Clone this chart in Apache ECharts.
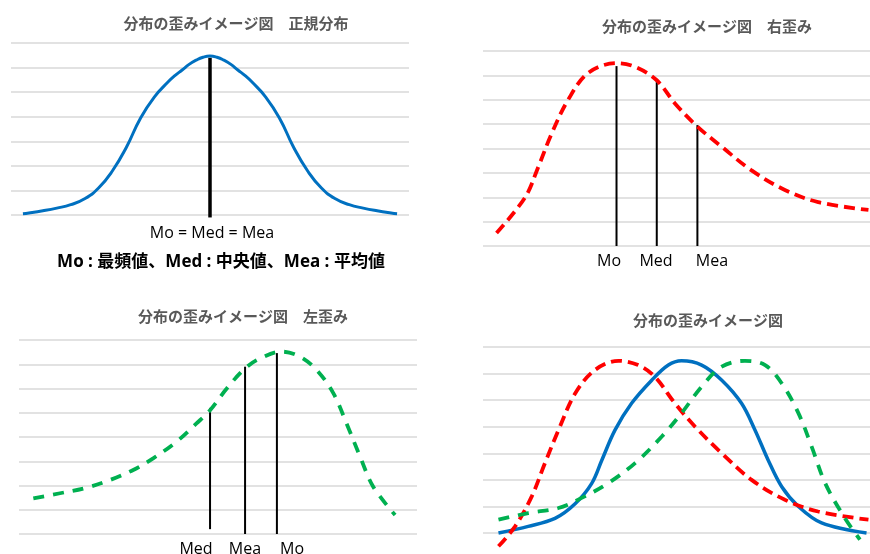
<!DOCTYPE html>
<html><head><meta charset="utf-8">
<script src="https://cdn.jsdelivr.net/npm/echarts@6/dist/echarts.min.js"></script>
<style>html,body{margin:0;padding:0;background:#fff}#c{width:870px;height:554px}</style>
</head><body><div id="c"></div>
<script>
// ---- titles / labels ----
const titleNormal = '分布の歪みイメージ図　正規分布';
const titleRight = '分布の歪みイメージ図　右歪み';
const titleLeft = '分布の歪みイメージ図　左歪み';
const titleAll = '分布の歪みイメージ図';
const eqLabel = 'Mo = Med = Mea';
const legendNote = 'Mo : 最頻値、Med : 中央値、Mea : 平均値';
const rightMarkNames = ['Mo', 'Med', 'Mea'];
const leftMarkNames = ['Med', 'Mea', 'Mo'];

// ---- panel 1: normal ----
const normX = [3,4.5,8,11.5,15,18.5,22,25.5,29,32.5,36,39.5,41.25,43,44.75,46.5,48.25,50,51.75,53.5,55.25,57,58.75,60.5,64,67.5,71,74.5,78,81.5,85,88.5,92,95.5,97];
const normY = [0.05,0.08,0.17,0.28,0.42,0.66,1.1,1.8,2.76,3.93,4.8,5.42,5.68,5.9,6.13,6.3,6.42,6.47,6.42,6.3,6.13,5.9,5.68,5.42,4.8,3.93,2.76,1.8,1.1,0.66,0.42,0.28,0.17,0.08,0.05];
const normMarkX = [50];
const normMarkTop = [6.4];

// ---- panel 2: right skew ----
const rightX = [3.5,10.9,14.3,17.7,22,27.2,34.5,39.3,44.9,49.6,55.4,61.7,69.4,78,86.6,99.6];
const rightY = [0.53,2.0,3.25,4.6,6.0,7.1,7.5,7.35,6.8,5.85,4.9,4.07,3.1,2.3,1.8,1.48];
const rightMarkX = [34.5,44.9,55.4];
const rightMarkTop = [7.38,6.8,4.96];

// ---- panel 3: left skew ----
const leftX = [3.6,10.3,17,22.9,28.7,33.7,39.6,44.6,48,52.2,56.8,60.6,66,70.6,74.8,79,82.3,85.7,89,94.5];
const leftY = [1.47,1.68,1.91,2.23,2.64,3.12,3.81,4.56,5.1,6.0,6.83,7.24,7.52,7.31,6.76,5.8,4.56,3.19,1.95,0.78];
const leftMarkX = [48,56.8,64.8];
const leftMarkBottom = [0.2,0,0];
const leftMarkTop = [5.2,6.9,7.46];

// ---- panel 4: combined ----
const blueX = [4,11.7,18.6,23.8,28.1,30.7,34.1,38.4,43.6,47.9,51.3,56.5,61.7,66.8,70.3,73.7,77.2,81.5,87.5,99.1];
const blueY = [0,0.25,0.55,1.1,1.87,2.74,3.87,4.88,5.75,6.32,6.48,6.32,5.75,4.88,3.87,2.74,1.74,1.0,0.38,0];
const redX = [4,8.3,12.6,16,19.5,23.8,28.9,35,40.1,44.4,49.6,54.8,61.7,69.4,78,86.6,99.6];
const redY = [-0.5,0.25,1.38,2.63,3.87,5.25,6.13,6.48,6.32,5.88,4.88,4.0,3.0,2.0,1.25,0.81,0.5];
const greenX = [4,11.7,19.5,25.5,32.4,39.3,46.2,51.3,56.5,61.7,67.7,72.9,77.2,81.5,84.9,88.4,93.2,97.4];
const greenY = [0.5,0.75,0.94,1.32,1.88,2.63,3.63,4.51,5.51,6.26,6.48,6.32,5.63,4.51,3.26,1.88,0.63,-0.25];

const zip = (xs, ys) => xs.map((x, i) => [x, ys[i]]);

const BLUE = '#0070c0', RED = '#ff0000', GREEN = '#00b050';
const RED_DASH = [11, 6];
const GREEN_DASH = [11, 9];

const grids = [
  {left: 11, width: 398, top: 43, height: 172},
  {left: 483, width: 387, top: 51, height: 195},
  {left: 19, width: 398, top: 340, height: 194},
  {left: 483, width: 387, top: 347, height: 186}
];
const yMax = [7, 8, 8, 7];

const chart = echarts.init(document.getElementById('c'), null, {renderer: 'canvas'});

const xAxes = grids.map((g, i) => ({type: 'value', gridIndex: i, min: 0, max: 100, show: false}));
const yAxes = grids.map((g, i) => ({
  type: 'value', gridIndex: i, min: 0, max: yMax[i], interval: 1,
  axisLine: {show: false}, axisTick: {show: false}, axisLabel: {show: false},
  splitLine: {show: true, lineStyle: {color: '#d9d9d9', width: 1.5}}
}));

function curve(idx, data, color, dash, width, smooth) {
  return {
    type: 'line', xAxisIndex: idx, yAxisIndex: idx, data: data,
    smooth: smooth || 0.35, showSymbol: false, symbol: 'none', clip: false, silent: true,
    lineStyle: {color: color, width: width, type: dash || 'solid'}
  };
}
function vline(idx, x, y0, y1, width) {
  return {
    type: 'line', xAxisIndex: idx, yAxisIndex: idx, data: [[x, y0], [x, y1]],
    showSymbol: false, symbol: 'none', clip: false, silent: true, z: 1,
    lineStyle: {color: '#000', width: width}
  };
}

const series = [];
series.push(vline(0, normMarkX[0], -0.1, normMarkTop[0], 3.5));
series.push(curve(0, zip(normX, normY), BLUE, null, 3, 0.5));

rightMarkX.forEach((x, i) => series.push(vline(1, x, 0, rightMarkTop[i], 2)));
series.push(curve(1, zip(rightX, rightY), RED, RED_DASH, 3.8));

leftMarkX.forEach((x, i) => series.push(vline(2, x, leftMarkBottom[i], leftMarkTop[i], 2)));
series.push(curve(2, zip(leftX, leftY), GREEN, GREEN_DASH, 3.8));

series.push(curve(3, zip(blueX, blueY), BLUE, null, 3.5));
series.push(curve(3, zip(redX, redY), RED, RED_DASH, 3.8));
series.push(curve(3, zip(greenX, greenY), GREEN, GREEN_DASH, 3.8));

const titleStyle = {fontFamily: '"Noto Sans CJK JP", sans-serif', fontSize: 15, fontWeight: 'bold', fill: '#595959'};
function text(x, y, str, style, va) {
  return {type: 'text', x: x, y: y, silent: true,
    style: Object.assign({text: str, align: 'center', verticalAlign: va || 'middle'}, style)};
}
const latin = {fontFamily: '"Open Sans", "Noto Sans CJK JP", sans-serif', fontSize: 16, fill: '#000'};

const graphics = [
  text(236, 23, titleNormal, titleStyle),
  text(707, 26, titleRight, titleStyle),
  text(243, 316, titleLeft, titleStyle),
  text(708, 320, titleAll, titleStyle),
  text(212, 233, eqLabel, latin),
  text(221, 262, legendNote, Object.assign({}, latin, {fontSize: 17, fontWeight: 'bold'})),
  text(609, 261, rightMarkNames[0], latin),
  text(656, 261, rightMarkNames[1], latin),
  text(712, 261, rightMarkNames[2], latin),
  text(196, 541, leftMarkNames[0], latin, 'top'),
  text(245, 541, leftMarkNames[1], latin, 'top'),
  text(292, 541, leftMarkNames[2], latin, 'top')
];

chart.setOption({
  animation: false,
  backgroundColor: '#fff',
  grid: grids,
  xAxis: xAxes,
  yAxis: yAxes,
  series: series,
  graphic: graphics
});
</script>
</body></html>
